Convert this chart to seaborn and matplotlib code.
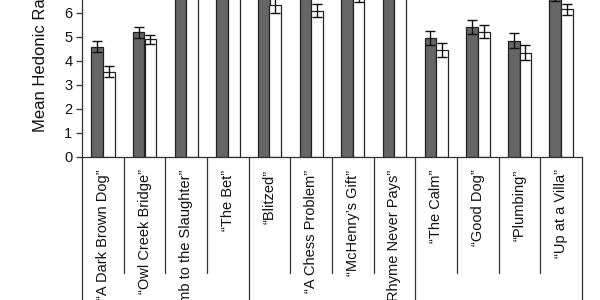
import matplotlib
matplotlib.use("Agg")
import matplotlib.pyplot as plt
import matplotlib.transforms as mtransforms
import seaborn as sns
import pandas as pd
import numpy as np

stories = ["\u201cA Dark Brown Dog\u201d", "\u201cOwl Creek Bridge\u201d", "\u201cLamb to the Slaughter\u201d",
           "\u201cThe Bet\u201d", "\u201cBlitzed\u201d", "\u201cA Chess Problem\u201d", "\u201cMcHenry\u2019s Gift\u201d",
           "\u201cRhyme Never Pays\u201d", "\u201cThe Calm\u201d", "\u201cGood Dog\u201d", "\u201cPlumbing\u201d",
           "\u201cUp at a Villa\u201d"]
conditions = ["A", "B"]
mean_a = [4.59, 5.19, 7.3, 7.5, 6.9, 7.0, 7.4, 7.3, 4.94, 5.42, 4.84, 6.75]
mean_b = [3.55, 4.90, 6.9, 7.0, 6.32, 6.08, 6.72, 6.9, 4.47, 5.21, 4.34, 6.14]
err_a = [0.23, 0.22, 0.25, 0.25, 0.28, 0.28, 0.28, 0.28, 0.28, 0.29, 0.30, 0.26]
err_b = [0.22, 0.18, 0.25, 0.25, 0.33, 0.27, 0.26, 0.26, 0.29, 0.28, 0.30, 0.24]

df = pd.DataFrame({
    "story": stories * 2,
    "cond": [conditions[0]] * len(stories) + [conditions[1]] * len(stories),
    "mean": mean_a + mean_b,
    "err": err_a + err_b,
})

sns.set_theme(style="white")
plt.rcParams["font.family"] = ["Liberation Sans", "DejaVu Sans"]

fig = plt.figure(figsize=(6, 3), dpi=100)
ax = fig.add_axes([82 / 600, 1 - 157 / 300, 500 / 600, 157 / 300])

sns.barplot(data=df, x="story", y="mean", hue="cond", order=stories, hue_order=conditions,
            palette=["#666666", "#ffffff"], width=0.56, errorbar=None, ax=ax,
            edgecolor="#222222", linewidth=0.9, legend=False, saturation=1)

# error bars from bar patches
bars = [p for p in ax.patches if p.get_width() > 0]
for p, row_err, row_mean in zip(bars, df["err"], df["mean"]):
    cx = p.get_x() + p.get_width() / 2
    ax.errorbar(cx, row_mean, yerr=row_err, fmt="none", ecolor="#111111",
                elinewidth=1.0, capsize=3.5, capthick=1.0, zorder=5)

ax.set_ylim(0, 6.53)
ax.set_xlim(-0.5, len(stories) - 0.5)
ax.set_yticks(range(0, 7))
ax.tick_params(axis="y", labelsize=10.5, length=4, width=0.9, color="#333333", left=True, pad=3,
               labelcolor="#111111")
ax.tick_params(axis="x", length=0, pad=9, labelsize=10.5, labelcolor="#111111")
ax.set_xticks(range(len(stories)))
ax.set_xticklabels(stories, rotation=90, va="top", ha="center")
ax.set_xlabel("")
ax.set_ylabel("Mean Hedonic Rating", fontsize=12, color="#111111")
ax.yaxis.set_label_coords(-0.068, 0.67)

for s in ["top", "right"]:
    ax.spines[s].set_visible(False)
for s in ["left", "bottom"]:
    ax.spines[s].set_color("#333333")
    ax.spines[s].set_linewidth(0.9)

trans = mtransforms.blended_transform_factory(ax.transData, ax.transAxes)
for i in range(len(stories) + 1):
    bottom = -1.0 if i % 4 == 0 else -0.739
    ax.plot([i - 0.5, i - 0.5], [0, bottom], transform=trans, color="#333333", lw=0.9,
            clip_on=False)

fig.savefig("out.png", dpi=100)
